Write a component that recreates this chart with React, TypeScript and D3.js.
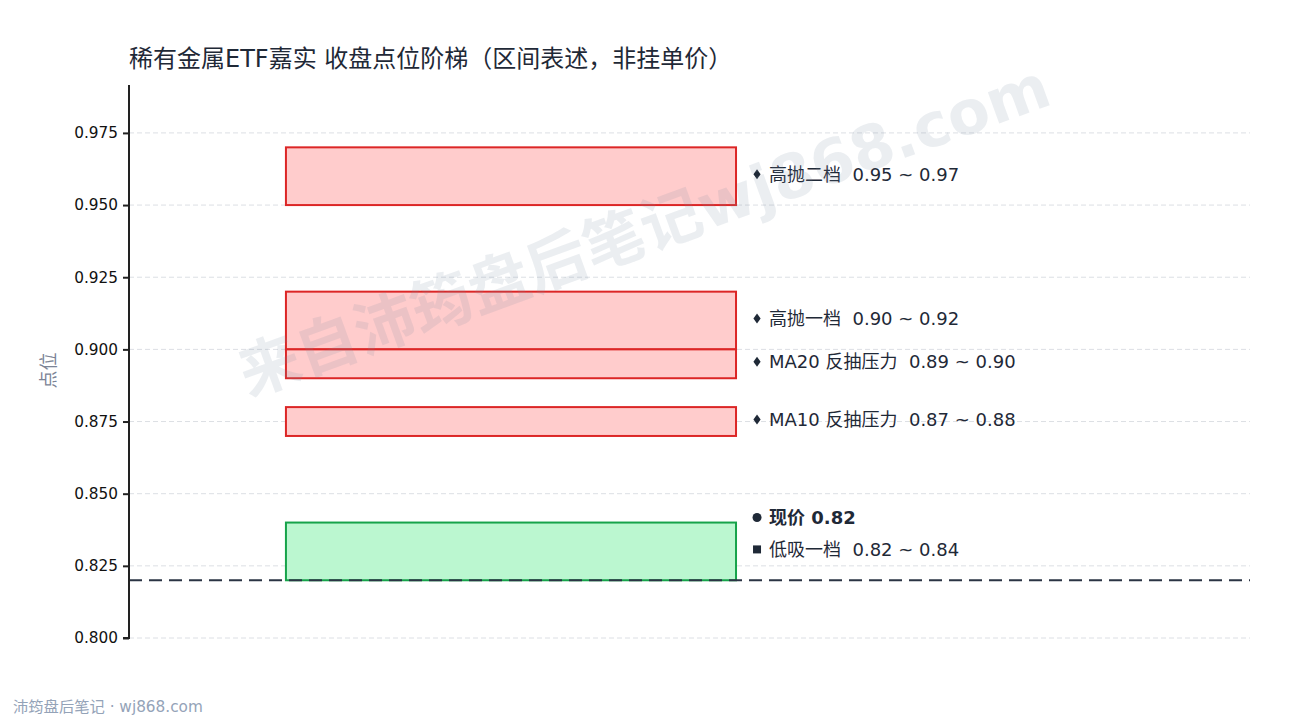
import React, { useEffect, useRef } from "react";
import * as d3 from "d3";

const TITLE = "稀有金属ETF嘉实 收盘点位阶梯（区间表述，非挂单价）";
const Y_LABEL = "点位";
const FOOTER = "沛筠盘后笔记 · wj868.com";
const WATERMARK = "来自沛筠盘后笔记wj868.com";

const zoneNames = ["高抛二档", "高抛一档", "MA20 反抽压力", "MA10 反抽压力", "低吸一档"];
const zoneLow = [0.95, 0.9, 0.89, 0.87, 0.82];
const zoneHigh = [0.97, 0.92, 0.9, 0.88, 0.84];
const zoneKind = ["sell", "sell", "sell", "sell", "buy"];
const currentPrice = 0.82;
const yTicks = [0.8, 0.825, 0.85, 0.875, 0.9, 0.925, 0.95, 0.975];
const yDomain = [0.8, 0.9916];

const W = 1290;
const H = 720;
const FONT = "'DejaVu Sans', 'Noto Sans CJK SC', sans-serif";
const NB = "\u00A0";

export default function App() {
  const ref = useRef<SVGSVGElement | null>(null);

  useEffect(() => {
    document.body.style.margin = "0";
    const svg = d3.select(ref.current);
    svg.selectAll("*").remove();

    const left = 129, right = 1250, top = 85, bottom = 638;
    const y = d3.scaleLinear().domain(yDomain).range([bottom, top]);
    const x = d3.scaleLinear().domain([0, 1]).range([left, right]);

    // grid
    svg.append("g").selectAll("line").data(yTicks).join("line")
      .attr("x1", left).attr("x2", right)
      .attr("y1", d => y(d)).attr("y2", d => y(d))
      .attr("stroke", "#dcdfe4").attr("stroke-width", 1)
      .attr("stroke-dasharray", "5,3");

    // zones
    const idx = d3.range(zoneNames.length);
    svg.append("g").selectAll("rect").data(idx).join("rect")
      .attr("x", x(0.14))
      .attr("width", x(0.5415) - x(0.14))
      .attr("y", i => y(zoneHigh[i]))
      .attr("height", i => y(zoneLow[i]) - y(zoneHigh[i]))
      .attr("fill", i => zoneKind[i] === "sell" ? "#ffcccc" : "#bbf7d0")
      .attr("stroke", i => zoneKind[i] === "sell" ? "#dc2626" : "#16a34a")
      .attr("stroke-width", 2);

    // current price dashed line
    svg.append("line")
      .attr("x1", left).attr("x2", right)
      .attr("y1", y(currentPrice)).attr("y2", y(currentPrice))
      .attr("stroke", "#2b3444").attr("stroke-width", 2)
      .attr("stroke-dasharray", "13,7");

    // axis
    const axis = d3.axisLeft(y).tickValues(yTicks).tickFormat(d3.format(".3f")).tickSize(6).tickPadding(5);
    const g = svg.append("g").attr("transform", `translate(${left},0)`).call(axis);
    g.select(".domain").attr("stroke", "#222").attr("stroke-width", 2).attr("d", `M-6,${bottom}H0V${top}`);
    g.selectAll(".tick line").attr("stroke", "#222").attr("stroke-width", 2);
    g.selectAll(".tick text").attr("font-family", FONT).attr("font-size", 15.3).attr("fill", "#111");

    // labels
    const lx = x(0.5415) + 21;
    const fmt = d3.format(".2f");
    const labelG = svg.append("g").attr("font-family", FONT).attr("fill", "#1f2937");
    idx.forEach(i => {
      const mid = (zoneLow[i] + zoneHigh[i]) / 2;
      const isBuy = zoneKind[i] === "buy";
      const ly = y(mid) - 2;
      if (isBuy) {
        labelG.append("rect").attr("x", lx - 4).attr("y", ly - 4).attr("width", 8).attr("height", 8).attr("fill", "#1f2937");
      } else {
        labelG.append("path").attr("d", "M0,-5L3.6,0L0,5L-3.6,0Z").attr("transform", `translate(${lx},${ly})`).attr("fill", "#1f2937");
      }
      labelG.append("text")
        .attr("x", lx + 12).attr("y", ly)
        .attr("dominant-baseline", "central")
        .attr("font-size", 18)
        .text(`${zoneNames[i]}${NB}${NB}${fmt(zoneLow[i])} ~ ${fmt(zoneHigh[i])}`);
    });
    const buyIdx = zoneKind.indexOf("buy");
    const py = y(zoneHigh[buyIdx]) - 5;
    labelG.append("circle").attr("cx", lx).attr("cy", py).attr("r", 4.5).attr("fill", "#1f2937");
    labelG.append("text")
      .attr("x", lx + 12).attr("y", py)
      .attr("dominant-baseline", "central")
      .attr("font-size", 18).attr("font-weight", 700)
      .text(`现价 ${fmt(currentPrice)}`);

    // y label
    svg.append("text")
      .attr("transform", `translate(48,${(top + bottom) / 2 + 9}) rotate(-90)`)
      .attr("text-anchor", "middle")
      .attr("dominant-baseline", "central")
      .attr("font-family", FONT).attr("font-size", 18).attr("fill", "#7b8496")
      .text(Y_LABEL);

    // title
    svg.append("text")
      .attr("x", 129).attr("y", 67)
      .attr("font-family", FONT).attr("font-size", 24).attr("fill", "#1f2937")
      .text(TITLE);

    // footer
    svg.append("text")
      .attr("x", 13).attr("y", 712)
      .attr("font-family", FONT).attr("font-size", 15.3).attr("fill", "#94a3b8")
      .text(FOOTER);

    // watermark (on top)
    svg.append("text")
      .attr("x", 0).attr("y", 0)
      .attr("transform", "translate(644,230) rotate(-20)")
      .attr("text-anchor", "middle")
      .attr("dominant-baseline", "central")
      .attr("font-family", FONT)
      .attr("font-weight", 700)
      .attr("font-size", 61)
      .attr("fill", "#7c8aa3")
      .attr("fill-opacity", 0.15)
      .text(WATERMARK);
  }, []);

  return <svg ref={ref} width={W} height={H} style={{ display: "block", background: "#fff" }} />;
}
